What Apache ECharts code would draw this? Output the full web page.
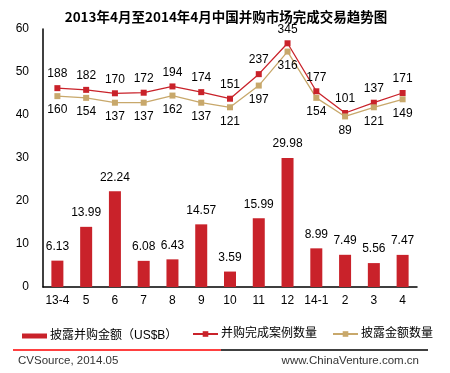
<!DOCTYPE html>
<html><head><meta charset="utf-8">
<script src="https://cdn.jsdelivr.net/npm/echarts@6/dist/echarts.min.js"></script>
<style>html,body{margin:0;padding:0;background:#fff}#c{width:450px;height:373px}</style>
</head><body><div id="c"></div>
<script>
const categories = ['13-4','5','6','7','8','9','10','11','12','14-1','2','3','4'];
const amount = [6.13,13.99,22.24,6.08,6.43,14.57,3.59,15.99,29.98,8.99,7.49,5.56,7.47];
const dealCount = [188,182,170,172,194,174,151,237,345,177,101,137,171];
const disclosedCount = [160,154,137,137,162,137,121,197,316,154,89,121,149];
const yTicks = [0,10,20,30,40,50,60];

const RED = '#C9222A', TAN = '#C8A86B';
const F = '"Liberation Sans", Arial, sans-serif';
const CJK = '"Liberation Sans", "Noto Sans CJK SC", sans-serif';
const chart = echarts.init(document.getElementById('c'), null, {renderer:'canvas'});
chart.setOption({
  animation:false,
  title:{text:'2013年4月至2014年4月中国并购市场完成交易趋势图', left:221, textAlign:'center', top:5,
    textStyle:{fontFamily:'"Noto Sans CJK SC", sans-serif', fontSize:13.5, fontWeight:'bold', color:'#000'}},
  grid:{left:43, right:33, top:29, bottom:86},
  legend:[
    {data:[{name:'披露并购金额（US$B）', icon:'rect'}], left:17, top:325, itemWidth:25, itemHeight:5, itemGap:4,
      textStyle:{fontFamily:CJK, fontSize:12, color:'#000', padding:[0,0,0,-2]}},
    {data:['并购完成案例数量','披露金额数量'], left:187, top:323, itemWidth:25, itemHeight:7, itemGap:15,
      textStyle:{fontFamily:CJK, fontSize:12, color:'#000', padding:[0,0,0,-2]}}
  ],
  xAxis:{type:'category', data:categories, axisTick:{show:false},
    axisLine:{lineStyle:{color:'#000', width:1.5}},
    axisLabel:{color:'#000', fontFamily:F, fontSize:12, margin:8, interval:0}},
  yAxis:[
    {type:'value', min:yTicks[0], max:yTicks[yTicks.length-1], interval:10, splitLine:{show:false},
      axisLine:{show:true, lineStyle:{color:'#000', width:1.5}}, axisTick:{show:false},
      axisLabel:{color:'#000', fontFamily:F, fontSize:12, margin:14}},
    {type:'value', min:-508, max:395, show:false, splitLine:{show:false}}
  ],
  series:[
    {name:'披露并购金额（US$B）', type:'bar', data:amount, barWidth:12, itemStyle:{color:RED},
      label:{show:true, position:'top', distance:8, color:'#000', fontFamily:F, fontSize:12}},
    {name:'并购完成案例数量', type:'line', yAxisIndex:1, data:dealCount, symbol:'rect', symbolSize:6,
      lineStyle:{color:RED, width:1.3}, itemStyle:{color:RED},
      label:{show:true, position:'top', distance:5, color:'#000', fontFamily:F, fontSize:12}},
    {name:'披露金额数量', type:'line', yAxisIndex:1, data:disclosedCount, symbol:'rect', symbolSize:6,
      lineStyle:{color:TAN, width:1.3}, itemStyle:{color:TAN},
      label:{show:true, position:'bottom', distance:5, color:'#000', fontFamily:F, fontSize:12}}
  ],
  graphic:[
    {type:'line', shape:{x1:13,y1:350,x2:221,y2:350}, style:{stroke:'#FF0000', lineWidth:1.5}},
    {type:'line', shape:{x1:221,y1:350,x2:428,y2:350}, style:{stroke:'#000', lineWidth:1.5}},
    {type:'text', left:18, top:355, style:{text:'CVSource, 2014.05', font:'11.5px '+F, fill:'#333'}},
    {type:'text', right:31, top:355, style:{text:'www.ChinaVenture.com.cn', font:'11.5px '+F, fill:'#333'}}
  ]
});
</script></body></html>
